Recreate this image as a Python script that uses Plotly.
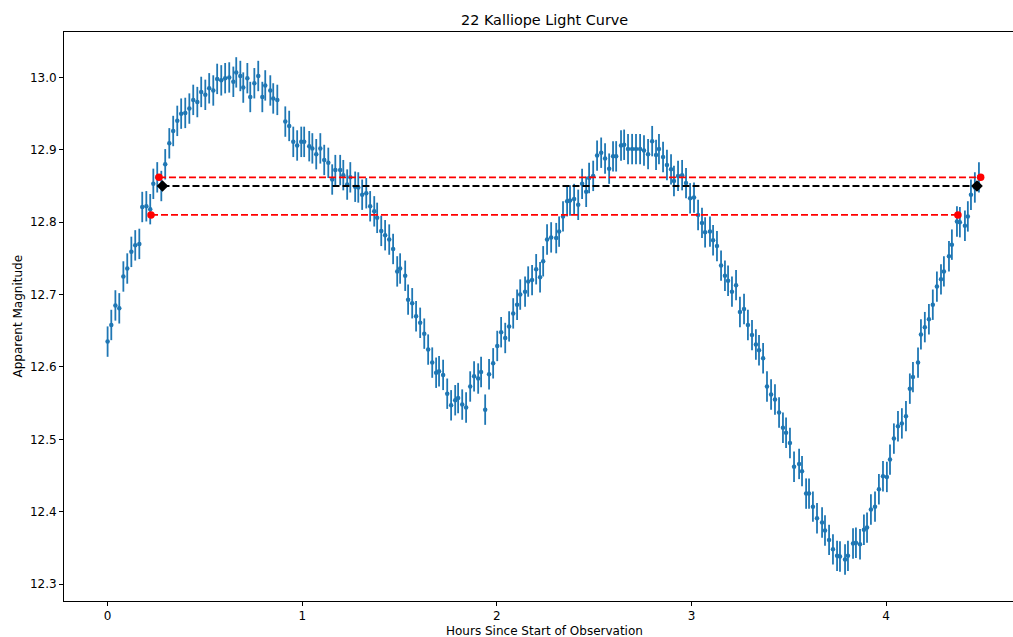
import plotly.graph_objects as go

# ---------------- data ----------------
hours = [
    0.000, 0.019, 0.040, 0.060, 0.081, 0.101, 0.122, 0.142, 0.163, 0.178,
    0.199, 0.219, 0.235, 0.255, 0.276, 0.296, 0.317, 0.337, 0.358, 0.378,
    0.399, 0.420, 0.440, 0.461, 0.481, 0.502, 0.522, 0.543, 0.563, 0.584,
    0.604, 0.625, 0.646, 0.661, 0.682, 0.697, 0.718, 0.733, 0.754, 0.774,
    0.795, 0.810, 0.836, 0.851, 0.872, 0.913, 0.933, 0.954, 0.974, 0.995,
    1.010, 1.036, 1.052, 1.072, 1.093, 1.113, 1.134, 1.154, 1.170, 1.195,
    1.211, 1.231, 1.247, 1.272, 1.288, 1.308, 1.329, 1.349, 1.370, 1.385,
    1.406, 1.426, 1.447, 1.467, 1.488, 1.503, 1.529, 1.544, 1.565, 1.585,
    1.606, 1.627, 1.647, 1.668, 1.688, 1.703, 1.724, 1.745, 1.765, 1.786,
    1.801, 1.822, 1.842, 1.863, 1.883, 1.904, 1.919, 1.940, 1.960, 1.981,
    2.002, 2.022, 2.043, 2.063, 2.084, 2.104, 2.120, 2.145, 2.161, 2.181,
    2.202, 2.222, 2.238, 2.258, 2.279, 2.305, 2.320, 2.340, 2.361, 2.376,
    2.397, 2.418, 2.438, 2.459, 2.474, 2.495, 2.515, 2.536, 2.556, 2.577,
    2.597, 2.613, 2.638, 2.654, 2.674, 2.695, 2.715, 2.736, 2.756, 2.777,
    2.798, 2.818, 2.833, 2.854, 2.874, 2.895, 2.910, 2.931, 2.952, 2.972,
    2.993, 3.013, 3.034, 3.054, 3.070, 3.095, 3.111, 3.131, 3.152, 3.172,
    3.188, 3.208, 3.229, 3.249, 3.270, 3.290, 3.311, 3.331, 3.347, 3.368,
    3.388, 3.409, 3.429, 3.450, 3.470, 3.486, 3.506, 3.527, 3.553, 3.568,
    3.589, 3.604, 3.624, 3.645, 3.671, 3.686, 3.707, 3.727, 3.748, 3.763,
    3.789, 3.804, 3.830, 3.845, 3.866, 3.886, 3.902, 3.922, 3.943, 3.963,
    3.984, 4.004, 4.020, 4.040, 4.061, 4.081, 4.102, 4.122, 4.138, 4.164,
    4.179, 4.199, 4.220, 4.240, 4.261, 4.282, 4.297, 4.323, 4.338, 4.364,
    4.379, 4.405, 4.420, 4.436, 4.456, 4.477,
]

magnitude = [
    12.635, 12.658, 12.685, 12.681, 12.725, 12.736, 12.759, 12.768, 12.770, 12.821,
    12.822, 12.818, 12.853, 12.862, 12.850, 12.880, 12.909, 12.926, 12.940, 12.950,
    12.951, 12.957, 12.969, 12.966, 12.980, 12.976, 12.985, 12.982, 12.998, 12.996,
    12.999, 13.000, 12.994, 13.007, 13.002, 12.986, 12.999, 12.973, 12.992, 13.002,
    12.973, 12.989, 12.982, 12.971, 12.969, 12.939, 12.933, 12.911, 12.906, 12.911,
    12.911, 12.905, 12.902, 12.894, 12.902, 12.886, 12.882, 12.859, 12.872, 12.872,
    12.865, 12.852, 12.862, 12.849, 12.848, 12.838, 12.840, 12.822, 12.815, 12.806,
    12.788, 12.782, 12.776, 12.763, 12.732, 12.736, 12.726, 12.693, 12.688, 12.670,
    12.661, 12.646, 12.624, 12.606, 12.592, 12.594, 12.589, 12.563, 12.547, 12.554,
    12.557, 12.548, 12.544, 12.573, 12.587, 12.584, 12.593, 12.541, 12.590, 12.605,
    12.629, 12.648, 12.640, 12.656, 12.674, 12.686, 12.700, 12.704, 12.718, 12.720,
    12.735, 12.724, 12.746, 12.776, 12.779, 12.778, 12.787, 12.808, 12.829, 12.830,
    12.832, 12.824, 12.853, 12.842, 12.861, 12.864, 12.892, 12.896, 12.888, 12.874,
    12.891, 12.891, 12.906, 12.907, 12.901, 12.901, 12.901, 12.901, 12.899, 12.894,
    12.912, 12.893, 12.901, 12.890, 12.879, 12.873, 12.857, 12.864, 12.865, 12.854,
    12.833, 12.834, 12.810, 12.799, 12.786, 12.787, 12.775, 12.767, 12.740, 12.726,
    12.719, 12.704, 12.713, 12.676, 12.680, 12.658, 12.644, 12.631, 12.623, 12.612,
    12.573, 12.562, 12.555, 12.537, 12.516, 12.509, 12.495, 12.462, 12.466, 12.456,
    12.425, 12.425, 12.407, 12.391, 12.385, 12.374, 12.361, 12.348, 12.339, 12.338,
    12.334, 12.339, 12.356, 12.357, 12.355, 12.375, 12.378, 12.403, 12.407, 12.431,
    12.449, 12.448, 12.472, 12.501, 12.518, 12.522, 12.532, 12.570, 12.586, 12.606,
    12.645, 12.655, 12.666, 12.686, 12.711, 12.721, 12.732, 12.753, 12.769, 12.801,
    12.800, 12.795, 12.808, 12.838, 12.848, 12.862,
]

mag_error = 0.021  # uncertainty of every measurement (magnitudes)

# period marker lines: [start hour, end hour] at a given magnitude
upper_level = 12.862
upper_hours = [0.264, 4.486]
mean_level = 12.850
mean_hours = [0.282, 4.467]
lower_level = 12.810
lower_hours = [0.223, 4.369]

x_ticks = [0, 1, 2, 3, 4]
y_ticks = [12.3, 12.4, 12.5, 12.6, 12.7, 12.8, 12.9, 13.0]
x_range = [-0.224, 4.652]
y_range = [12.2766, 13.0628]

# ---------------- figure ----------------
FONT = "DejaVu Sans"
BLUE = "#1f77b4"

fig = go.Figure()

fig.add_trace(go.Scatter(
    x=hours, y=magnitude, mode="markers",
    marker=dict(color=BLUE, size=4.5),
    error_y=dict(type="constant", value=mag_error, color=BLUE,
                 thickness=1.8, width=0),
    showlegend=False, hoverinfo="x+y",
))


def level_line(hrs, level, color, symbol, size):
    fig.add_trace(go.Scatter(
        x=hrs, y=[level] * len(hrs), mode="lines+markers",
        line=dict(color=color, width=1.8, dash="7px,3px"),
        marker=dict(color=color, symbol=symbol, size=size, line=dict(width=0)),
        showlegend=False,
    ))


level_line(upper_hours, upper_level, "red", "circle", 7.5)
level_line(lower_hours, lower_level, "red", "circle", 7.5)
level_line(mean_hours, mean_level, "black", "diamond", 9)

W, H = 1013, 637
ML, MT, MB, MR = 64, 32, 36, 0
pw = W - ML - MR
ph = H - MT - MB


def px_x(px):
    return (px - ML) / pw


def px_y(py):
    return (H - MB - py) / ph


axis_common = dict(
    showgrid=False, zeroline=False, showline=True, linecolor="black",
    linewidth=1, ticks="outside", ticklen=4, tickwidth=1, tickcolor="black",
    tickfont=dict(family=FONT, size=12, color="black"),
)

fig.update_layout(
    width=W, height=H,
    margin=dict(l=ML, r=MR, t=MT, b=MB, pad=0),
    paper_bgcolor="white", plot_bgcolor="white",
    font=dict(family=FONT, size=12, color="black"),
    xaxis=dict(range=x_range, tickvals=x_ticks, mirror=True, **axis_common),
    yaxis=dict(range=y_range, tickvals=y_ticks, tickformat=".1f", **axis_common),
    annotations=[
        dict(text="22 Kalliope Light Curve", x=px_x(544), y=px_y(19.5),
             xref="paper", yref="paper", xanchor="center", yanchor="middle",
             showarrow=False, font=dict(family=FONT, size=14.4, color="black")),
        dict(text="Hours Since Start of Observation", x=px_x(544), y=px_y(630.5),
             xref="paper", yref="paper", xanchor="center", yanchor="middle",
             showarrow=False, font=dict(family=FONT, size=12, color="black")),
        dict(text="Apparent Magnitude", x=px_x(17), y=px_y(316.5),
             xref="paper", yref="paper", xanchor="center", yanchor="middle",
             textangle=-90, showarrow=False,
             font=dict(family=FONT, size=12, color="black")),
    ],
)

fig.write_html("out.html", config={"displayModeBar": False},
               post_script="document.body.style.margin='0px';")
